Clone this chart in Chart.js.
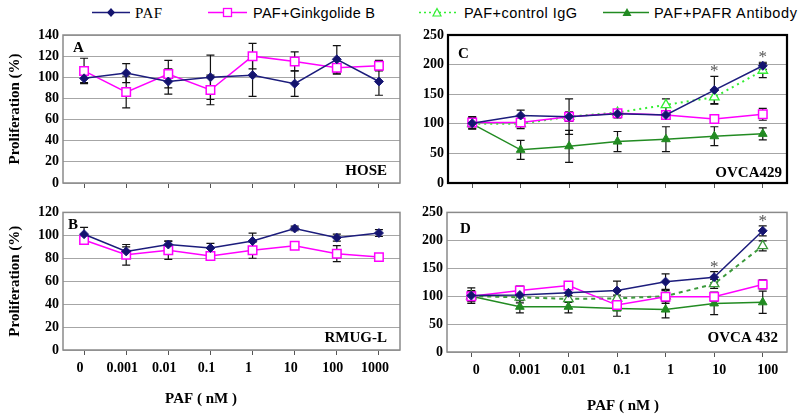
<!DOCTYPE html>
<html lang="en">
<head>
    <meta charset="UTF-8">
    <title>PAF proliferation</title>
    <style>
        body { margin: 0; background: #fff; }
        #page { position: relative; width: 800px; height: 417px; overflow: hidden; background: #fff; }
        .panel { position: absolute; }
        #legend { position: absolute; left: 0; top: 0; }
    </style>
    <script src="https://cdn.jsdelivr.net/npm/chart.js@4.4.1/dist/chart.umd.min.js"></script>
</head>
<body>
<div id="page">
    <svg id="legend" width="800" height="26">
        <line x1="92" y1="12.5" x2="130" y2="12.5" stroke="#1c1c7c" stroke-width="1.5"/>
        <path d="M111 8 L115 12.5 L111 17 L107 12.5 Z" fill="#14146e"/>
        <text x="135" y="17.5" font-family="Liberation Serif" font-size="15" textLength="27" fill="#000">PAF</text>

        <line x1="208" y1="12.5" x2="247" y2="12.5" stroke="#ff00ff" stroke-width="1.5"/>
        <rect x="223.5" y="8.5" width="8" height="8" fill="#fff" stroke="#ff00ff" stroke-width="1.3"/>
        <text x="253" y="17.5" font-family="Liberation Sans" font-size="14.5" textLength="122" fill="#000">PAF+Ginkgolide B</text>

        <line x1="419" y1="12.5" x2="458" y2="12.5" stroke="#33ee33" stroke-width="1.5" stroke-dasharray="2 3"/>
        <path d="M437 8.5 L441 16 L433 16 Z" fill="#fff" stroke="#33ee33" stroke-width="1.2"/>
        <text x="464" y="17.5" font-family="Liberation Sans" font-size="14.5" textLength="113" fill="#000">PAF+control IgG</text>

        <line x1="603" y1="12.5" x2="649" y2="12.5" stroke="#228b22" stroke-width="1.5"/>
        <path d="M627 8 L631.5 16 L622.5 16 Z" fill="#228b22"/>
        <text x="654" y="17.5" font-family="Liberation Sans" font-size="14.5" textLength="143" fill="#000">PAF+PAFR Antibody</text>
    </svg>
    <div class="panel" style="left:0;top:0"><canvas id="chartA" width="410" height="200"></canvas></div>
    <div class="panel" style="left:400px;top:0"><canvas id="chartC" width="400" height="200"></canvas></div>
    <div class="panel" style="left:0;top:200px"><canvas id="chartB" width="410" height="217"></canvas></div>
    <div class="panel" style="left:400px;top:200px"><canvas id="chartD" width="400" height="217"></canvas></div>
</div>

<script>
    // doses (nM)
    const dosesLeft = ['0', '0.001', '0.01', '0.1', '1', '10', '100', '1000'];
    const dosesRight = ['0', '0.001', '0.01', '0.1', '1', '10', '100'];

    // A - HOSE
    const hosePaf = [99, 104, 96, 100, 102, 94, 117, 96];
    const hosePafErr = [4, 9, 12, 21, 20, 12, 13, 13];
    const hoseGinkgo = [106, 86, 103, 88, 120, 115, 109, 111];
    const hoseGinkgoErr = [12, 15, 13, 14, 12, 9, 6, 5];

    // B - RMUG-L
    const rmugPaf = [101, 86, 92, 89, 95, 106, 98, 102];
    const rmugPafErr = [6, 4, 3, 4, 7, 2, 3, 3];
    const rmugGinkgo = [96, 83, 87, 82, 87, 91, 84, 81];
    const rmugGinkgoErr = [4, 9, 8, 3, 7, 3, 7, 2];

    // C - OVCA429
    const ovca429Paf = [101, 114, 112, 117, 115, 157, 198];
    const ovca429PafErr = [10, 9, 8, 7, 6, 23, 6];
    const ovca429Ginkgo = [102, 102, 112, 118, 115, 108, 116];
    const ovca429GinkgoErr = [10, 10, 30, 6, 5, 3, 10];
    const ovca429IgG = [100, 100, 112, 119, 132, 145, 190];
    const ovca429IgGErr = [5, 5, 5, 5, 10, 12, 12];
    const ovca429Pafr = [100, 56, 62, 70, 74, 79, 83];
    const ovca429PafrErr = [5, 16, 27, 17, 21, 16, 10];
    const ovca429Sig = [false, false, false, false, false, true, true];

    // D - OVCA 432
    const ovca432Paf = [101, 102, 106, 110, 126, 134, 217];
    const ovca432PafErr = [14, 8, 12, 17, 14, 10, 9];
    const ovca432Ginkgo = [100, 110, 119, 84, 99, 99, 121];
    const ovca432GinkgoErr = [8, 8, 7, 10, 12, 8, 8];
    const ovca432IgG = [100, 98, 95, 96, 100, 122, 190];
    const ovca432IgGErr = [10, 10, 6, 6, 10, 8, 9];
    const ovca432Pafr = [100, 81, 81, 78, 76, 87, 89];
    const ovca432PafrErr = [8, 11, 11, 14, 15, 20, 20];
    const ovca432Sig = [false, false, false, false, false, true, true];

    const SERIF = "'Liberation Serif', 'Times New Roman', serif";
    const NAVY = '#1c1c7c';
    const MAGENTA = '#ff00ff';
    const DARK_GREEN = '#228b22';

    // error bars + significance stars, drawn through the chart scales
    const errorBars = {
        id: 'errorBars',
        beforeDatasetsDraw(chart) {
            const { ctx, scales: { x, y } } = chart;
            ctx.save();
            ctx.strokeStyle = '#111';
            ctx.lineWidth = 1.2;
            chart.data.datasets.forEach(ds => {
                if (!ds.errors) return;
                ds.data.forEach((v, i) => {
                    const e = ds.errors[i];
                    if (!e) return;
                    const px = x.getPixelForValue(i);
                    const top = y.getPixelForValue(v + e);
                    const bot = y.getPixelForValue(v - e);
                    ctx.beginPath();
                    ctx.moveTo(px, top); ctx.lineTo(px, bot);
                    ctx.moveTo(px - 4, top); ctx.lineTo(px + 4, top);
                    ctx.moveTo(px - 4, bot); ctx.lineTo(px + 4, bot);
                    ctx.stroke();
                });
            });
            ctx.restore();
        },
        afterDatasetsDraw(chart) {
            const { ctx, scales: { x, y } } = chart;
            ctx.save();
            ctx.fillStyle = '#555';
            ctx.font = '17px ' + SERIF;
            ctx.textAlign = 'center';
            ctx.textBaseline = 'alphabetic';
            chart.data.datasets.forEach(ds => {
                if (!ds.sig) return;
                ds.sig.forEach((s, i) => {
                    if (!s) return;
                    const top = y.getPixelForValue(ds.data[i] + (ds.errors ? ds.errors[i] : 0));
                    ctx.fillText('*', x.getPixelForValue(i), top);
                });
            });
            ctx.restore();
        }
    };

    const frame = {
        id: 'frame',
        afterDraw(chart, args, opts) {
            const { ctx, chartArea: a } = chart;
            ctx.save();
            ctx.strokeStyle = opts.color;
            ctx.lineWidth = opts.width;
            ctx.strokeRect(a.left, a.top, a.right - a.left, a.bottom - a.top);
            ctx.restore();
        }
    };

    const panelText = {
        id: 'panelText',
        afterDraw(chart, args, opts) {
            const { ctx, chartArea: a } = chart;
            ctx.save();
            ctx.fillStyle = '#000';
            ctx.textBaseline = 'alphabetic';
            (opts.items || []).forEach(t => {
                ctx.font = 'bold ' + (t.size || 15) + 'px ' + SERIF;
                ctx.textAlign = t.align || 'left';
                const x = (t.ax ? a.right : a.left) + t.dx;
                const y = (t.ay ? a.bottom : a.top) + t.dy;
                ctx.fillText(t.text, x, y);
            });
            ctx.restore();
        }
    };

    function pafSeries(data, errors, sig) {
        return { label: 'PAF', data, errors, sig, borderColor: NAVY, backgroundColor: '#14146e',
            borderWidth: 1.5, pointStyle: 'rectRot', pointRadius: 4.5, pointBorderWidth: 1 };
    }
    function ginkgoSeries(data, errors) {
        return { label: 'PAF+Ginkgolide B', data, errors, borderColor: MAGENTA, backgroundColor: '#fff',
            borderWidth: 1.5, pointStyle: 'rect', pointRadius: 6, pointBorderWidth: 1.5 };
    }
    function igGSeries(data, errors, color, dash) {
        return { label: 'PAF+control IgG', data, errors, borderColor: color, backgroundColor: '#fff',
            borderWidth: 2, borderDash: dash, pointStyle: 'triangle', pointRadius: 5.5, pointBorderWidth: 1.3 };
    }
    function pafrSeries(data, errors) {
        return { label: 'PAF+PAFR Antibody', data, errors, borderColor: DARK_GREEN, backgroundColor: DARK_GREEN,
            borderWidth: 1.5, pointStyle: 'triangle', pointRadius: 5, pointBorderWidth: 1 };
    }

    function makePanel(id, o) {
        return new Chart(document.getElementById(id), {
            type: 'line',
            data: { labels: o.labels, datasets: o.datasets },
            options: {
                responsive: false,
                animation: false,
                devicePixelRatio: 1,
                layout: { padding: o.padding },
                plugins: {
                    legend: { display: false },
                    tooltip: { enabled: false },
                    frame: o.frame,
                    panelText: { items: o.texts }
                },
                scales: {
                    x: {
                        type: 'category',
                        offset: true,
                        grid: { drawOnChartArea: false, drawTicks: true, tickLength: 5, offset: false, color: '#555' },
                        border: { display: false },
                        ticks: {
                            display: o.showX, color: '#000', padding: 5, autoSkip: false, maxRotation: 0,
                            labelOffset: o.labelOffset || 0,
                            font: { family: SERIF, size: 14, weight: 'bold' }
                        },
                        afterFit: s => { s.height = o.xHeight; }
                    },
                    y: {
                        min: 0,
                        max: o.max,
                        ticks: { stepSize: o.step, color: '#000', padding: 4,
                            font: { family: SERIF, size: 14, weight: 'bold' } },
                        grid: { color: '#a6a6a6', drawTicks: false },
                        border: { display: false },
                        title: { display: o.yTitle, text: 'Proliferation (%)', color: '#000',
                            padding: { top: 6, bottom: 0 },
                            font: { family: SERIF, size: 15, weight: 'bold' } },
                        afterFit: s => { s.width = o.yWidth; }
                    }
                }
            },
            plugins: [errorBars, frame, panelText]
        });
    }

    makePanel('chartA', {
        labels: dosesLeft, max: 140, step: 20, yTitle: true, showX: false,
        padding: { top: 35, right: 10, left: 0, bottom: 0 }, yWidth: 63, xHeight: 17,
        frame: { color: '#8a8a8a', width: 1.5 },
        datasets: [pafSeries(hosePaf, hosePafErr), ginkgoSeries(hoseGinkgo, hoseGinkgoErr)],
        texts: [
            { text: 'A', dx: 10, dy: 17 },
            { text: 'HOSE', ax: 1, ay: 1, dx: -13, dy: -8, align: 'right' }
        ]
    });

    makePanel('chartB', {
        labels: dosesLeft, max: 120, step: 20, yTitle: true, showX: true, labelOffset: -4,
        padding: { top: 8, right: 10, left: 0, bottom: 0 }, yWidth: 63, xHeight: 67,
        frame: { color: '#8a8a8a', width: 1.5 },
        datasets: [pafSeries(rmugPaf, rmugPafErr), ginkgoSeries(rmugGinkgo, rmugGinkgoErr)],
        texts: [
            { text: 'B', dx: 5, dy: 17 },
            { text: 'RMUG-L', ax: 1, ay: 1, dx: -13, dy: -8, align: 'right' },
            { text: 'PAF ( nM )', ay: 1, dx: 138, dy: 53, align: 'center' }
        ]
    });

    makePanel('chartC', {
        labels: dosesRight, max: 250, step: 50, yTitle: false, showX: false,
        padding: { top: 35, right: 13, left: 0, bottom: 0 }, yWidth: 48, xHeight: 17,
        frame: { color: '#000', width: 2.2 },
        datasets: [
            pafSeries(ovca429Paf, ovca429PafErr, ovca429Sig),
            ginkgoSeries(ovca429Ginkgo, ovca429GinkgoErr),
            igGSeries(ovca429IgG, ovca429IgGErr, '#33ee33', [2, 4]),
            pafrSeries(ovca429Pafr, ovca429PafrErr)
        ],
        texts: [
            { text: 'C', dx: 10, dy: 23 },
            { text: 'OVCA429', ax: 1, ay: 1, dx: -5, dy: -6, align: 'right' }
        ]
    });

    makePanel('chartD', {
        labels: dosesRight, max: 250, step: 50, yTitle: false, showX: true, labelOffset: 5,
        padding: { top: 7, right: 13, left: 0, bottom: 0 }, yWidth: 47, xHeight: 65,
        frame: { color: '#8a8a8a', width: 1.5 },
        datasets: [
            pafSeries(ovca432Paf, ovca432PafErr, ovca432Sig),
            ginkgoSeries(ovca432Ginkgo, ovca432GinkgoErr),
            igGSeries(ovca432IgG, ovca432IgGErr, '#3c9a3c', [4, 4]),
            pafrSeries(ovca432Pafr, ovca432PafrErr)
        ],
        texts: [
            { text: 'D', dx: 13, dy: 21 },
            { text: 'OVCA 432', ax: 1, ay: 1, dx: -9, dy: -10, align: 'right' },
            { text: 'PAF ( nM )', ay: 1, dx: 176, dy: 58, align: 'center' }
        ]
    });
</script>
</body>
</html>
